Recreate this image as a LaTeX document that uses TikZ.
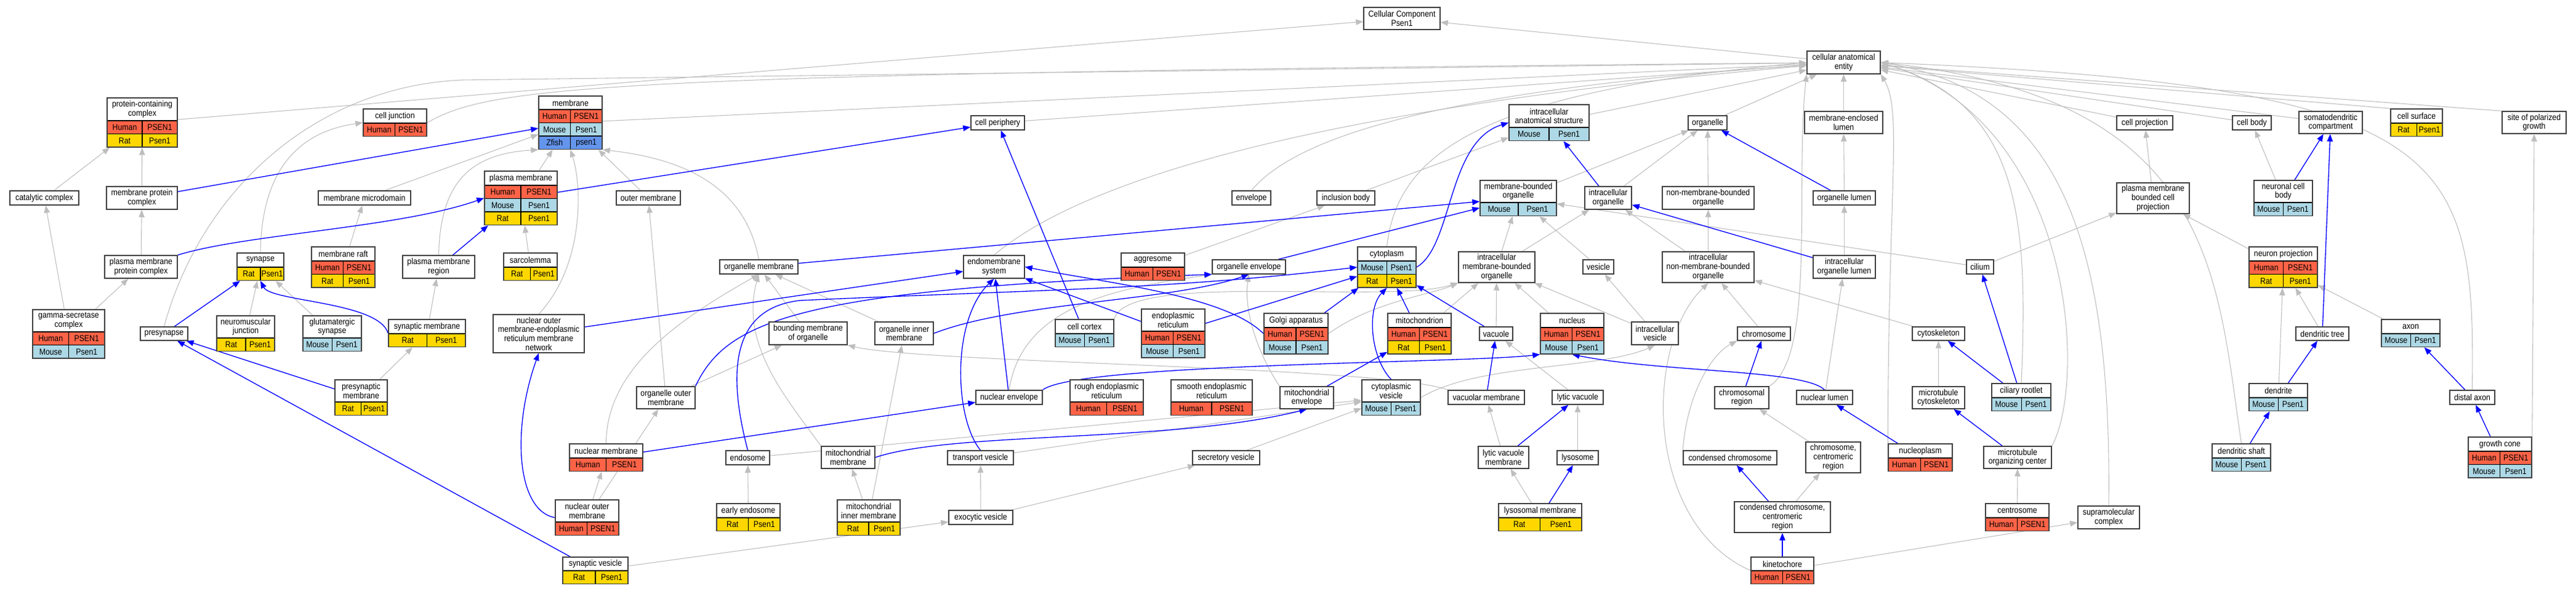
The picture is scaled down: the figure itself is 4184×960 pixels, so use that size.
\documentclass[tikz,border=0pt]{standalone}
\usepackage{fontspec}
\setmainfont{Liberation Sans}[FakeStretch=0.88]
\usetikzlibrary{arrows.meta,fit,positioning}
\pgfdeclarelayer{background}
\pgfsetlayers{background,main}

\definecolor{human}{HTML}{FF6347}
\definecolor{mouse}{HTML}{ADD8E6}
\definecolor{rat}{HTML}{FFD700}
\definecolor{zfish}{HTML}{6495ED}
\definecolor{boxline}{HTML}{404040}
\definecolor{isagray}{HTML}{BEBEBE}

\tikzset{
  lbl/.style={font=\fontsize{10.5}{11}\selectfont, align=center, inner sep=0pt},
  isa/.style={draw=isagray, line width=0.8pt, -{Triangle[length=9pt,width=7pt]}},
  partof/.style={draw=blue, line width=1pt, -{Triangle[length=9pt,width=7pt]}}
}

% term without annotation rows: name, left, top, right, bottom, title
\newcommand{\goplain}[6]{%
  \path[fill=white] (#2,#3) rectangle (#4,#5);
  \node[lbl] at ({(#2+#4)/2},{(#3+#5)/2}) {#6};
  \node[fit={(#2,#3) (#4,#5)}, inner sep=0pt, draw=boxline, line width=1.1pt] (#1) {};
}

% term with species rows: name, left, top, right, title bottom, title, rows
\newcommand{\goterm}[7]{%
  \path[fill=white] (#2,#3) rectangle (#4,#5);
  \node[lbl] at ({(#2+#4)/2},{(#3+#5)/2}) {#6};
  \coordinate (#1-tl) at (#2,#3);
  \coordinate (#1-br) at (#4,#5);
  \foreach \spx/\gnx/\clx [count=\k] in {#7} {
    \path[draw=black, line width=0.8pt, fill=\clx]
      ({#2},{#5+21.5*(\k-1)}) rectangle ({(#2+#4)/2},{#5+21.5*\k})
      ({(#2+#4)/2},{#5+21.5*(\k-1)}) rectangle ({#4},{#5+21.5*\k});
    \node[lbl] at ({#2+(#4-#2)/4},{#5+21.5*\k-10.75}) {\spx};
    \node[lbl] at ({#4-(#4-#2)/4},{#5+21.5*\k-10.75}) {\gnx};
    \coordinate (#1-br) at ({#4},{#5+21.5*\k});
  }
  \node[fit=(#1-tl)(#1-br), inner sep=0pt, draw=boxline, line width=1.1pt] (#1) {};
}

\begin{document}
\begin{tikzpicture}[x=0.75pt, y=-0.75pt]
  \useasboundingbox (0,0) rectangle (4184,960);

  % terms without rows
  \goplain{root}{2215}{12}{2339}{48}{Cellular Component\\Psen1}
  \goplain{cae}{2935}{83}{3054}{120}{cellular anatomical\\entity}
  \goplain{catc}{16}{310}{128}{333}{catalytic complex}
  \goplain{mpc}{173}{303}{288}{340}{membrane protein\\complex}
  \goplain{mmd}{517}{310}{667}{333}{membrane microdomain}
  \goplain{pmpc}{170}{415}{288}{452}{plasma membrane\\protein complex}
  \goplain{pmr}{654}{415}{771}{452}{plasma membrane\\region}
  \goplain{presyn}{228}{531}{305}{553}{presynapse}
  \goplain{omem}{1001}{310}{1105}{333}{outer membrane}
  \goplain{orgmem}{1169}{422}{1296}{445}{organelle membrane}
  \goplain{nomer}{801}{511}{949}{573}{nuclear outer\\membrane-endoplasmic\\reticulum membrane\\network}
  \goplain{bmo}{1249}{523}{1376}{560}{bounding membrane\\of organelle}
  \goplain{oom}{1034}{628}{1129}{664}{organelle outer\\membrane}
  \goplain{endos}{1179}{732}{1250}{755}{endosome}
  \goplain{mmem}{1334}{725}{1421}{761}{mitochondrial\\membrane}
  \goplain{cper}{1577}{188}{1664}{211}{cell periphery}
  \goplain{endo}{1565}{415}{1664}{452}{endomembrane\\system}
  \goplain{env}{2001}{310}{2064}{333}{envelope}
  \goplain{orgenv}{1969}{422}{2088}{445}{organelle envelope}
  \goplain{oim}{1421}{523}{1516}{560}{organelle inner\\membrane}
  \goplain{nenv}{1585}{634}{1693}{657}{nuclear envelope}
  \goplain{menv}{2079}{628}{2166}{664}{mitochondrial\\envelope}
  \goplain{tves}{1539}{732}{1646}{755}{transport vesicle}
  \goplain{sves}{1937}{732}{2046}{755}{secretory vesicle}
  \goplain{exves}{1541}{829}{1645}{852}{exocytic vesicle}
  \goplain{org}{2742}{188}{2805}{211}{organelle}
  \goplain{incb}{2139}{310}{2233}{333}{inclusion body}
  \goplain{io}{2574}{303}{2650}{340}{intracellular\\organelle}
  \goplain{nmbo}{2700}{303}{2849}{340}{non-membrane-bounded\\organelle}
  \goplain{imbo}{2369}{409}{2493}{459}{intracellular\\membrane-bounded\\organelle}
  \goplain{ves}{2571}{422}{2621}{445}{vesicle}
  \goplain{inmbo}{2700}{409}{2849}{459}{intracellular\\non-membrane-bounded\\organelle}
  \goplain{vac}{2403}{531}{2457}{553}{vacuole}
  \goplain{ivs}{2650}{523}{2726}{560}{intracellular\\vesicle}
  \goplain{vacmem}{2352}{634}{2476}{657}{vacuolar membrane}
  \goplain{lytvac}{2521}{634}{2604}{657}{lytic vacuole}
  \goplain{chreg}{2785}{628}{2873}{664}{chromosomal\\region}
  \goplain{cchrom}{2734}{732}{2886}{755}{condensed chromosome}
  \goplain{lvm}{2401}{725}{2483}{761}{lytic vacuole\\membrane}
  \goplain{lys}{2529}{732}{2596}{755}{lysosome}
  \goplain{mel}{2931}{181}{3058}{217}{membrane-enclosed\\lumen}
  \goplain{cproj}{3438}{188}{3529}{211}{cell projection}
  \goplain{orglum}{2945}{310}{3046}{333}{organelle lumen}
  \goplain{pmbcp}{3438}{297}{3556}{347}{plasma membrane\\bounded cell\\projection}
  \goplain{iol}{2945}{415}{3046}{452}{intracellular\\organelle lumen}
  \goplain{cil}{3194}{422}{3238}{445}{cilium}
  \goplain{chrom}{2822}{531}{2908}{553}{chromosome}
  \goplain{cysk}{3106}{531}{3191}{553}{cytoskeleton}
  \goplain{nlum}{2918}{634}{3009}{657}{nuclear lumen}
  \goplain{mtcsk}{3106}{628}{3191}{664}{microtubule\\cytoskeleton}
  \goplain{ccr}{2933}{718}{3022}{768}{chromosome,\\centromeric\\region}
  \goplain{mtoc}{3222}{725}{3332}{761}{microtubule\\organizing center}
  \goplain{cccr}{2817}{815}{2973}{865}{condensed chromosome,\\centromeric\\region}
  \goplain{supra}{3375}{822}{3475}{859}{supramolecular\\complex}
  \goplain{cbody}{3626}{188}{3689}{211}{cell body}
  \goplain{sdc}{3734}{181}{3837}{217}{somatodendritic\\compartment}
  \goplain{spg}{4064}{181}{4168}{217}{site of polarized\\growth}
  \goplain{dtree}{3729}{531}{3815}{553}{dendritic tree}
  \goplain{daxon}{3979}{634}{4052}{657}{distal axon}

  % terms with species rows
  \goterm{pcc}{174}{159}{288}{196}{protein-containing\\complex}{Human/PSEN1/human,Rat/Psen1/rat}
  \goterm{cj}{590}{177}{693}{200}{cell junction}{Human/PSEN1/human}
  \goterm{syn}{385}{411}{461}{434}{synapse}{Rat/Psen1/rat}
  \goterm{raft}{506}{401}{609}{424}{membrane raft}{Human/PSEN1/human,Rat/Psen1/rat}
  \goterm{gsc}{53}{503}{170}{539}{gamma-secretase\\complex}{Human/PSEN1/human,Mouse/Psen1/mouse}
  \goterm{nmj}{352}{513}{446}{549}{neuromuscular\\junction}{Rat/Psen1/rat}
  \goterm{glu}{492}{513}{587}{549}{glutamatergic\\synapse}{Mouse/Psen1/mouse}
  \goterm{synmem}{631}{519}{756}{542}{synaptic membrane}{Rat/Psen1/rat}
  \goterm{presynmem}{544}{617}{629}{653}{presynaptic\\membrane}{Rat/Psen1/rat}
  \goterm{mem}{875}{156}{978}{178}{membrane}{Human/PSEN1/human,Mouse/Psen1/mouse,Zfish/psen1/zfish}
  \goterm{pmem}{787}{278}{905}{301}{plasma membrane}{Human/PSEN1/human,Mouse/Psen1/mouse,Rat/Psen1/rat}
  \goterm{sarc}{818}{411}{905}{434}{sarcolemma}{Rat/Psen1/rat}
  \goterm{nmem}{925}{721}{1044}{744}{nuclear membrane}{Human/PSEN1/human}
  \goterm{nom}{902}{812}{1005}{848}{nuclear outer\\membrane}{Human/PSEN1/human}
  \goterm{eendo}{1164}{818}{1267}{841}{early endosome}{Rat/Psen1/rat}
  \goterm{mim}{1360}{812}{1462}{848}{mitochondrial\\inner membrane}{Rat/Psen1/rat}
  \goterm{synves}{914}{905}{1020}{927}{synaptic vesicle}{Rat/Psen1/rat}
  \goterm{aggr}{1821}{411}{1924}{434}{aggresome}{Human/PSEN1/human}
  \goterm{ccort}{1714}{519}{1809}{542}{cell cortex}{Mouse/Psen1/mouse}
  \goterm{er}{1854}{502}{1957}{538}{endoplasmic\\reticulum}{Human/PSEN1/human,Mouse/Psen1/mouse}
  \goterm{golgi}{2053}{509}{2157}{532}{Golgi apparatus}{Human/PSEN1/human,Mouse/Psen1/mouse}
  \goterm{rer}{1738}{617}{1857}{653}{rough endoplasmic\\reticulum}{Human/PSEN1/human}
  \goterm{ser}{1902}{617}{2034}{653}{smooth endoplasmic\\reticulum}{Human/PSEN1/human}
  \goterm{ias}{2451}{170}{2581}{207}{intracellular\\anatomical structure}{Mouse/Psen1/mouse}
  \goterm{mbo}{2404}{293}{2528}{329}{membrane-bounded\\organelle}{Mouse/Psen1/mouse}
  \goterm{cyto}{2205}{401}{2300}{424}{cytoplasm}{Mouse/Psen1/mouse,Rat/Psen1/rat}
  \goterm{mito}{2254}{509}{2357}{532}{mitochondrion}{Human/PSEN1/human,Rat/Psen1/rat}
  \goterm{nuc}{2502}{509}{2605}{532}{nucleus}{Human/PSEN1/human,Mouse/Psen1/mouse}
  \goterm{cves}{2212}{617}{2307}{653}{cytoplasmic\\vesicle}{Mouse/Psen1/mouse}
  \goterm{lysmem}{2434}{818}{2569}{841}{lysosomal membrane}{Rat/Psen1/rat}
  \goterm{crl}{3235}{623}{3331}{646}{ciliary rootlet}{Mouse/Psen1/mouse}
  \goterm{nplasm}{3067}{721}{3171}{744}{nucleoplasm}{Human/PSEN1/human}
  \goterm{csome}{3225}{818}{3328}{841}{centrosome}{Human/PSEN1/human}
  \goterm{kin}{2844}{905}{2946}{927}{kinetochore}{Human/PSEN1/human}
  \goterm{csurf}{3883}{177}{3967}{200}{cell surface}{Rat/Psen1/rat}
  \goterm{ncb}{3661}{293}{3756}{329}{neuronal cell\\body}{Mouse/Psen1/mouse}
  \goterm{nproj}{3653}{401}{3764}{424}{neuron projection}{Human/PSEN1/human,Rat/Psen1/rat}
  \goterm{axon}{3868}{519}{3963}{542}{axon}{Mouse/Psen1/mouse}
  \goterm{dend}{3653}{623}{3748}{646}{dendrite}{Mouse/Psen1/mouse}
  \goterm{dshaft}{3593}{721}{3688}{744}{dendritic shaft}{Mouse/Psen1/mouse}
  \goterm{gcone}{4009}{710}{4112}{733}{growth cone}{Human/PSEN1/human,Mouse/Psen1/mouse}

  \begin{pgfonlayer}{background}
    \fill[white] (0,0) rectangle (4184,960);

    % is_a
    \foreach \a/\b in {cae/root,pcc/root,catc/pcc,mpc/pcc,pmpc/mpc,gsc/catc,gsc/pmpc,
        mem/cae,cper/cae,ias/cae,org/cae,mel/cae,cproj/cae,cbody/cae,sdc/cae,
        mmd/mem,raft/mmd,pmem/mem,sarc/pmem,synmem/pmr,nmj/syn,glu/syn,presynmem/synmem,
        omem/mem,bmo/orgmem,oim/orgmem,nom/nmem,nom/oom,oom/omem,oom/bmo,mim/mmem,mim/oim,
        eendo/endos,endos/cves,tves/cves,sves/cves,exves/tves,exves/sves,synves/exves,
        lvm/vacmem,lys/lytvac,lysmem/lvm,lytvac/vac,vac/imbo,nuc/imbo,ivs/imbo,ivs/ves,
        mito/imbo,io/org,mbo/org,nmbo/org,imbo/mbo,imbo/io,inmbo/nmbo,inmbo/io,ves/mbo,
        incb/ias,aggr/incb,orglum/mel,iol/orglum,nlum/iol,pmbcp/cproj,nproj/pmbcp,
        cil/pmbcp,cil/mbo,ncb/cbody,dtree/nproj,dend/nproj,axon/nproj,csome/mtoc,
        mtcsk/cysk,cysk/inmbo,chrom/inmbo,ccr/chreg,cccr/ccr,kin/supra}
      \draw[isa] (\a) -- (\b);

    \draw[isa] (cj.east) .. controls (800,140) and (950,120) .. (cae);
    \draw[isa] (presyn.north) .. controls (330,300) and (520,140) .. (750,130) -- (cae);
    \draw[isa] (endo.north) .. controls (1750,300) and (2100,180) .. (cae);
    \draw[isa] (env.north) .. controls (2100,230) and (2300,150) .. (cae);
    \draw[isa] (cyto.north) .. controls (2270,250) and (2400,150) .. (cae.west);
    \draw[isa] (chreg.north east) .. controls (2950,580) and (2915,300) .. (cae.south west);
    \draw[isa] (nplasm.north west) .. controls (3067,300) and (3090,180) .. (cae.south east);
    \draw[isa] (crl.north) .. controls (3295,350) and (3280,170) .. (cae.east);
    \draw[isa] (mtoc.north east) .. controls (3390,620) and (3370,200) .. (cae.east);
    \draw[isa] (supra.north) .. controls (3430,400) and (3350,150) .. (cae.east);
    \draw[isa] (dshaft.north) .. controls (3600,450) and (3600,160) .. (cae.east);
    \draw[isa] (daxon.north) .. controls (4020,250) and (3990,140) .. (cae.east);
    \draw[isa] (csurf.north west) -- (cae);
    \draw[isa] (spg.north west) -- (cae);
    \draw[isa] (syn.north) .. controls (425,260) and (500,212) .. (cj.west);
    \draw[isa] (pmr.north) .. controls (715,300) and (760,250) .. (mem.south west);
    \draw[isa] (orgmem.north) .. controls (1215,330) and (1150,262) .. (mem.south east);
    \draw[isa] (nomer.north) .. controls (950,430) and (945,300) .. (mem.south);
    \draw[isa] (nmem.north) .. controls (985,600) and (1100,520) .. (orgmem.south);
    \draw[isa] (mmem.north west) .. controls (1280,650) and (1200,560) .. (orgmem.south);
    \draw[isa] (menv.north west) .. controls (2040,570) and (2020,500) .. (orgenv.south);
    \draw[isa] (nenv.north) .. controls (1660,500) and (1800,470) .. (orgenv.south west);
    \draw[isa] (vacmem.north west) .. controls (2250,595) and (1500,590) .. (bmo.south east);
    \draw[isa] (golgi.east) .. controls (2230,490) and (2320,480) .. (imbo.south west);
    \draw[isa] (ccort.north east) .. controls (1830,440) and (2250,495) .. (imbo.south west);
    \draw[isa] (cves.east) .. controls (2400,590) and (2600,600) .. (ivs.south);
    \draw[isa] (cchrom.north west) .. controls (2740,640) and (2780,575) .. (chrom.south west);
    \draw[isa] (kin.west) .. controls (2670,850) and (2670,560) .. (inmbo.south);
    \draw[isa] (gcone.north east) -- (spg.south);

    % part_of
    \foreach \a/\b in {mpc/mem,pmr/pmem,pmem/cper,presyn/syn,presynmem/presyn,synves/presyn,
        nomer/endo,nmem/nenv,nenv/endo,er/endo,ccort/cper,menv/mito,orgenv/mbo,orgmem/mbo,
        io/ias,iol/io,orglum/org,mito/cyto,golgi/cyto,er/cyto,vac/cyto,vacmem/vac,
        lvm/lytvac,lysmem/lys,nplasm/nlum,chreg/chrom,cccr/cchrom,kin/cccr,crl/cysk,
        crl/cil,mtoc/mtcsk,ncb/sdc,dtree/sdc,dend/dtree,dshaft/dend,daxon/axon,gcone/daxon}
      \draw[partof] (\a) -- (\b);

    \draw[partof] (pmpc.north east) .. controls (400,380) and (650,370) .. (pmem.west);
    \draw[partof] (synmem.west) .. controls (615,490) and (440,490) .. (syn.south);
    \draw[partof] (nom.west) .. controls (840,830) and (830,700) .. (nomer.south);
    \draw[partof] (oom.north east) .. controls (1180,520) and (1300,470) .. (orgenv.south west);
    \draw[partof] (endos.north) .. controls (1180,600) and (1190,500) .. (1300,488)
                  .. controls (1700,470) and (1900,470) .. (cyto.west);
    \draw[partof] (nenv.north east) .. controls (1750,590) and (2380,590) .. (nuc.south west);
    \draw[partof] (tves.north) .. controls (1550,680) and (1545,520) .. (endo.south);
    \draw[partof] (golgi.west) .. controls (1990,480) and (1800,460) .. (endo.east);
    \draw[partof] (oim.east) .. controls (1650,490) and (1900,490) .. (orgenv.south);
    \draw[partof] (mmem.east) .. controls (1550,700) and (1900,720) .. (menv.south);
    \draw[partof] (cyto.east) .. controls (2360,400) and (2350,230) .. (ias.west);
    \draw[partof] (cves.north) .. controls (2225,580) and (2220,500) .. (cyto.south);
    \draw[partof] (nlum.north) .. controls (2930,600) and (2700,605) .. (nuc.south);
  \end{pgfonlayer}
\end{tikzpicture}
\end{document}
